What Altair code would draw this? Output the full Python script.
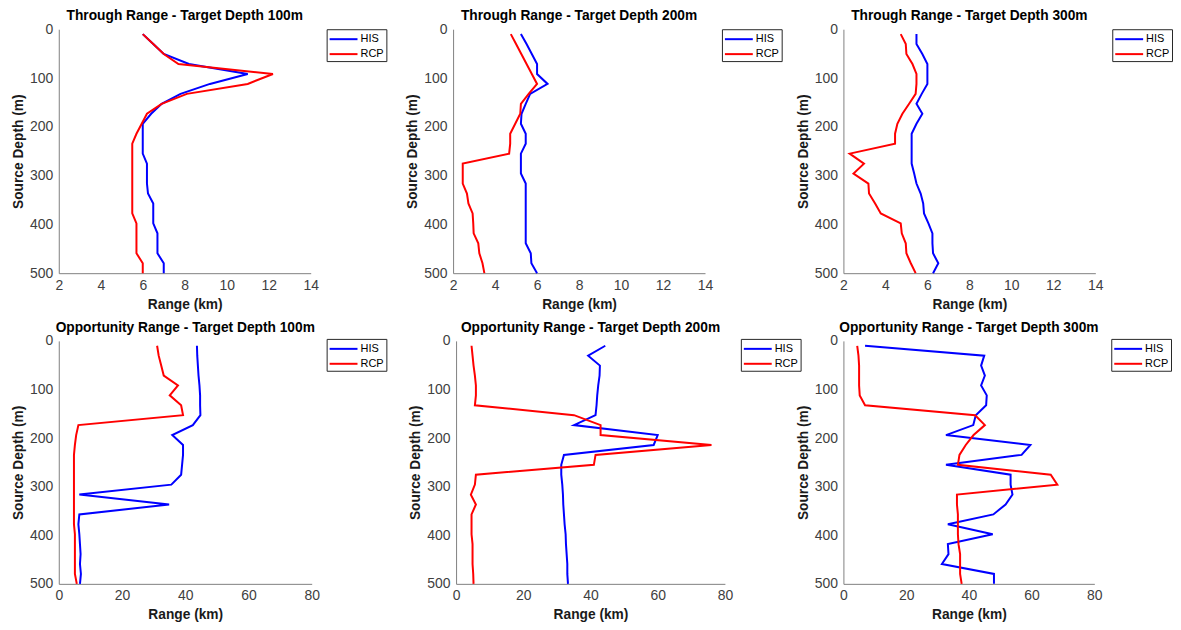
import altair as alt
import pandas as pd

# Source depth samples (m)
DEPTHS = [10.0, 30.4, 50.8, 71.3, 91.7, 112.1, 132.5, 152.9, 173.3, 193.8, 214.2, 234.6,
          255.0, 275.4, 295.8, 316.3, 336.7, 357.1, 377.5, 397.9, 418.3, 438.8, 459.2,
          479.6, 500.0]

SERIES = ["HIS", "RCP"]
COLORS = ["#0000ff", "#ff0000"]

TITLES = [
    "Through Range - Target Depth 100m",
    "Through Range - Target Depth 200m",
    "Through Range - Target Depth 300m",
    "Opportunity Range - Target Depth 100m",
    "Opportunity Range - Target Depth 200m",
    "Opportunity Range - Target Depth 300m",
]

# Through range (km)
TR100_HIS = [6.0, 6.5, 7.0, 8.2, 11.0, 9.2, 7.8, 6.9, 6.4, 6.0, 6.0, 6.0, 6.0, 6.2, 6.2,
             6.2, 6.25, 6.5, 6.5, 6.5, 6.7, 6.7, 6.7, 7.0, 7.0]
TR100_RCP = [6.0, 6.5, 7.0, 7.7, 12.2, 11.0, 8.1, 6.9, 6.2, 5.95, 5.7, 5.5, 5.5, 5.5, 5.5,
             5.5, 5.5, 5.5, 5.5, 5.7, 5.7, 5.7, 5.7, 6.0, 6.0]
TR200_HIS = [5.23, 5.5, 5.75, 6.0, 6.0, 6.5, 5.67, 5.46, 5.26, 5.23, 5.46, 5.46, 5.23, 5.23,
             5.23, 5.46, 5.46, 5.46, 5.46, 5.46, 5.46, 5.46, 5.7, 5.73, 6.0]
TR200_RCP = [4.75, 5.0, 5.25, 5.5, 5.75, 6.0, 5.6, 5.23, 5.2, 4.96, 4.72, 4.72, 4.67, 2.46,
             2.46, 2.46, 2.66, 2.73, 2.93, 2.96, 2.98, 3.2, 3.25, 3.4, 3.49]
TR300_HIS = [5.48, 5.48, 5.76, 6.0, 6.0, 6.0, 5.73, 5.48, 5.76, 5.48, 5.25, 5.25, 5.25, 5.25,
             5.37, 5.48, 5.68, 5.8, 5.84, 6.05, 6.24, 6.24, 6.27, 6.52, 6.27]
TR300_RCP = [4.73, 4.97, 5.0, 5.29, 5.48, 5.48, 5.44, 5.13, 4.81, 4.57, 4.46, 4.46, 2.3, 2.98,
             2.48, 3.19, 3.22, 3.51, 3.78, 4.73, 4.78, 4.97, 5.0, 5.21, 5.44]

# Opportunity range (km)
OR100_HIS = [43.7, 43.8, 44.0, 44.2, 44.5, 44.7, 44.7, 44.8, 42.4, 35.9, 39.3, 39.3, 39.0,
             38.7, 35.6, 6.5, 34.9, 6.5, 6.2, 6.5, 6.7, 6.9, 6.7, 7.0, 6.7]
OR100_RCP = [31.1, 31.6, 32.4, 33.2, 37.7, 35.1, 38.7, 39.3, 6.2, 5.5, 5.1, 4.8, 4.8, 4.8,
             4.8, 4.8, 4.8, 4.8, 4.8, 5.1, 5.1, 5.1, 5.1, 5.1, 5.7]
OR200_HIS = [44.4, 39.3, 42.8, 42.7, 42.3, 42.0, 41.8, 41.5, 35.1, 60.0, 58.8, 32.1, 31.3,
             31.3, 31.6, 31.8, 31.9, 32.1, 32.3, 32.6, 32.7, 32.9, 33.1, 33.1, 33.3]
OR200_RCP = [4.6, 4.9, 5.2, 5.6, 5.9, 5.9, 5.6, 35.1, 43.0, 43.0, 76.0, 41.5, 41.0, 5.9, 5.6,
             4.4, 5.9, 4.6, 4.6, 4.6, 4.9, 4.9, 4.9, 5.1, 5.2]
OR300_HIS = [6.9, 44.9, 43.9, 45.1, 43.9, 45.7, 45.5, 42.2, 41.4, 32.7, 59.6, 56.8, 32.7,
             53.3, 53.3, 53.9, 51.7, 47.8, 33.3, 47.6, 33.3, 33.5, 31.4, 48.0, 48.0]
OR300_RCP = [4.4, 4.8, 5.0, 5.0, 5.0, 5.2, 6.9, 42.0, 45.1, 41.5, 39.0, 37.0, 36.5, 66.1,
             68.2, 36.2, 36.2, 36.5, 36.5, 36.5, 36.7, 37.2, 37.2, 37.2, 37.7]

THROUGH_TICKS = [2, 4, 6, 8, 10, 12, 14]
OPP_TICKS = [0, 20, 40, 60, 80]
DEPTH_TICKS = [0, 100, 200, 300, 400, 500]

FONT = "Liberation Sans"


def panel(title, his, rcp, xdomain, xticks, width, height, legx, legy):
    df = pd.DataFrame({
        "depth": DEPTHS + DEPTHS,
        "range": his + rcp,
        "series": ["HIS"] * len(his) + ["RCP"] * len(rcp),
    })
    return alt.Chart(df).mark_line(strokeWidth=2).encode(
        x=alt.X("range:Q",
                scale=alt.Scale(domain=xdomain, nice=False, zero=False),
                axis=alt.Axis(values=xticks, title="Range (km)", format="d")),
        y=alt.Y("depth:Q",
                scale=alt.Scale(domain=[0, 500], reverse=True, nice=False, zero=False),
                axis=alt.Axis(values=DEPTH_TICKS, title="Source Depth (m)", format="d")),
        color=alt.Color("series:N",
                        scale=alt.Scale(domain=SERIES, range=COLORS),
                        legend=alt.Legend(orient="none", legendX=legx, legendY=legy,
                                          title=None, symbolType="M-1,0H3",
                                          symbolSize=196, symbolStrokeWidth=2,
                                          labelFont=FONT, labelFontSize=11,
                                          labelColor="black", labelOffset=16,
                                          padding=2, rowPadding=2,
                                          strokeColor="#262626", fillColor="white",
                                          cornerRadius=0)),
        order=alt.Order("depth:Q"),
    ).properties(width=width, height=height,
                 title=alt.TitleParams(text=title, frame="group"))


def spacer(w):
    return alt.Chart(pd.DataFrame({"s": [0]})).mark_point(opacity=0).encode(
        x=alt.value(0), y=alt.value(0)).properties(width=w, height=1)


p1 = panel(TITLES[0], TR100_HIS, TR100_RCP, [2, 14], THROUGH_TICKS, 253, 245, 269, 0)
p2 = panel(TITLES[1], TR200_HIS, TR200_RCP, [2, 14], THROUGH_TICKS, 253, 245, 270, 0)
p3 = panel(TITLES[2], TR300_HIS, TR300_RCP, [2, 14], THROUGH_TICKS, 253, 245, 270, 0)
p4 = panel(TITLES[3], OR100_HIS, OR100_RCP, [0, 80], OPP_TICKS, 254, 244, 269, -2)
p5 = panel(TITLES[4], OR200_HIS, OR200_RCP, [0, 80], OPP_TICKS, 270, 244, 286, -2)
p6 = panel(TITLES[5], OR300_HIS, OR300_RCP, [0, 80], OPP_TICKS, 252, 244, 269, -2)

top = alt.hconcat(p1, spacer(143), p2, spacer(139), p3, spacing=0, bounds="flush"
                  ).resolve_scale(x="independent", y="independent", color="independent")
bottom = alt.hconcat(p4, spacer(145), p5, spacer(119), p6, spacing=0, bounds="flush"
                     ).resolve_scale(x="independent", y="independent", color="independent")

chart = alt.vconcat(top, bottom, spacing=10).resolve_scale(
    x="independent", y="independent", color="independent"
).properties(
    padding={"left": 3, "top": 0, "right": 0, "bottom": 0}
).configure_view(
    stroke=None
).configure_axis(
    grid=False, ticks=False, domainColor="#808080", domainWidth=1,
    labelFont=FONT, labelFontSize=14, labelColor="#404040", labelFlush=False,
    titleFont=FONT, titleFontSize=13.8, titleFontWeight="bold", titleColor="#1a1a1a",
).configure_axisX(
    labelPadding=5, titlePadding=5
).configure_axisY(
    labelPadding=6, titlePadding=4
).configure_title(
    font=FONT, fontSize=13.8, fontWeight="bold", color="black", offset=-1,
    anchor="middle"
)

chart.save("out.html", embed_options={"renderer": "svg", "actions": False})
